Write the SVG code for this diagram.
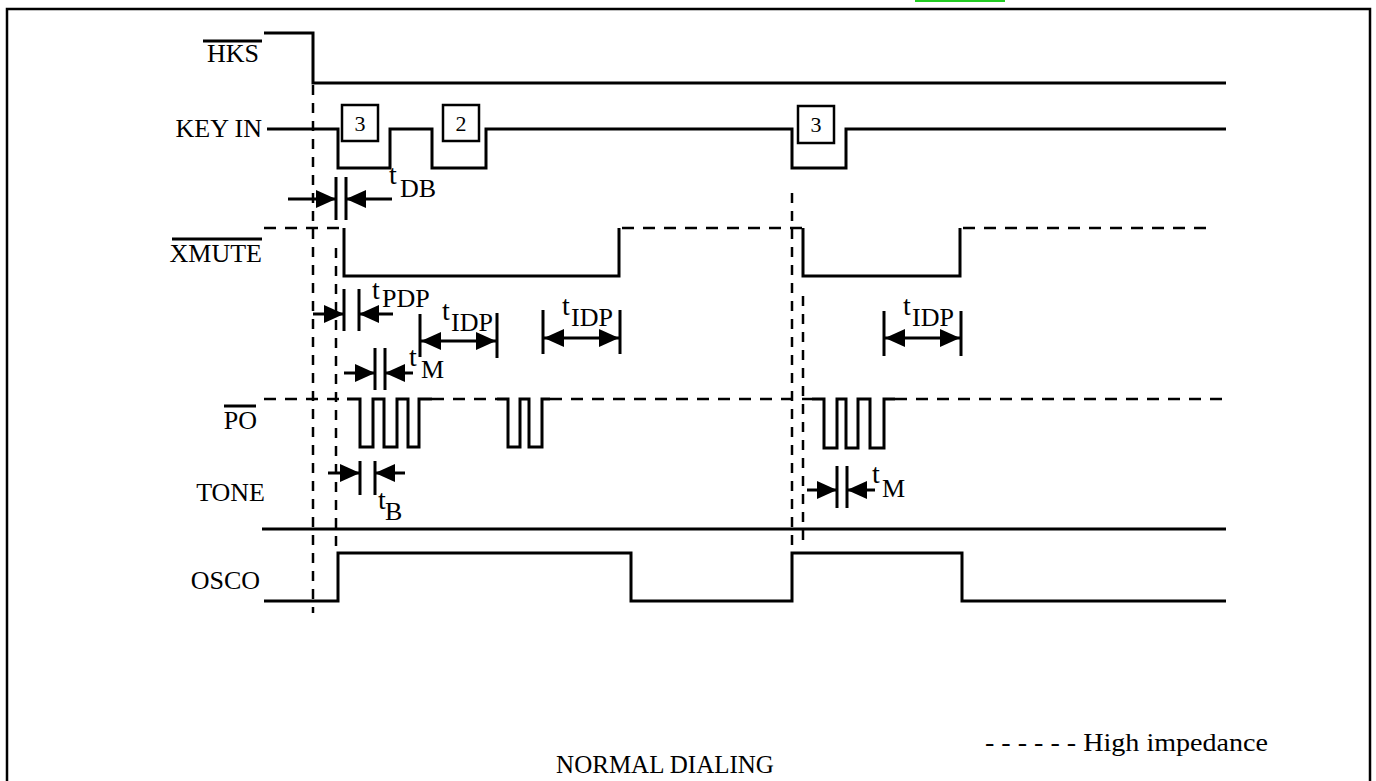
<svg xmlns="http://www.w3.org/2000/svg" width="1376" height="781" viewBox="0 0 1376 781">
<style>
text{font-family:"Liberation Serif","Times New Roman",serif;font-size:26px;fill:#000}
.lbl{text-anchor:end}
.sig{fill:none;stroke:#000;stroke-width:3;stroke-linejoin:miter}
.hz{fill:none;stroke:#000;stroke-width:2.5;stroke-dasharray:12 9}
.vd{fill:none;stroke:#000;stroke-width:2.5;stroke-dasharray:10 8}
.ol{stroke:#000;stroke-width:3}
.bar{stroke:#000;stroke-width:3}
.arr{stroke:#000;stroke-width:3;fill:none;marker-end:url(#ah)}
.arr2{stroke:#000;stroke-width:3;fill:none;marker-end:url(#ah);marker-start:url(#ah)}
.box{fill:#fff;stroke:#000;stroke-width:2.5}
.sm{font-size:22px}
</style>
<defs>
<marker id="ah" viewBox="0 0 20 18" refX="20" refY="9" markerWidth="20" markerHeight="18" markerUnits="userSpaceOnUse" orient="auto-start-reverse">
<path d="M0,0 L20,9 L0,18 z" fill="#000"/>
</marker>
</defs>
<rect x="0" y="0" width="1376" height="781" fill="#fff"/>
<rect x="916" y="-20" width="88" height="21" fill="none" stroke="#22cc22" stroke-width="2"/>
<rect id="frame" x="7" y="9" width="1363" height="790" fill="none" stroke="#000" stroke-width="2.5"/>

<g id="hks">
<text class="lbl" x="259" y="62">HKS</text>
<line class="ol" x1="203" y1="41" x2="262" y2="41"/>
<polyline class="sig" points="264,33 313,33 313,83 1226,83"/>
</g>

<g id="keyin">
<text class="lbl" x="262" y="137">KEY IN</text>
<polyline class="sig" points="267,129 338,129 338,168 390,168 390,129 432,129 432,168 486,168 486,129 792,129 792,168 846,168 846,129 1226,129"/>
<rect class="box" x="342" y="105" width="36" height="36"/>
<text class="sm" x="360" y="131" text-anchor="middle">3</text>
<rect class="box" x="443" y="105" width="36" height="36"/>
<text class="sm" x="461" y="131" text-anchor="middle">2</text>
<rect class="box" x="798" y="106" width="36" height="37"/>
<text class="sm" x="816" y="132" text-anchor="middle">3</text>
</g>

<g id="xmute">
<text class="lbl" x="262" y="262">XMUTE</text>
<line class="ol" x1="172" y1="239" x2="262" y2="239"/>
<line class="hz" x1="264" y1="228" x2="344" y2="228"/>
<polyline class="sig" points="344,228 344,276 619,276 619,228"/>
<line class="hz" x1="622" y1="228" x2="803" y2="228"/>
<polyline class="sig" points="803,228 803,276 960,276 960,228"/>
<line class="hz" x1="963" y1="228" x2="1212" y2="228"/>
</g>

<g id="po">
<text class="lbl" x="257" y="429">PO</text>
<line class="ol" x1="224" y1="406" x2="256" y2="406"/>
<line class="hz" x1="264" y1="399" x2="347" y2="399"/>
<polyline class="sig" points="347,399 360,399 360,447 373,447 373,399 384,399 384,447 397,447 397,399 408,399 408,447 419,447 419,399 432,399"/>
<line class="hz" x1="432" y1="399" x2="497" y2="399"/>
<polyline class="sig" points="497,399 508,399 508,447 520,447 520,399 529,399 529,447 542,447 542,399 550,399"/>
<line class="hz" x1="550" y1="399" x2="812" y2="399"/>
<polyline class="sig" points="812,399 824,399 824,448 837,448 837,399 846,399 846,448 858,448 858,399 870,399 870,448 884,448 884,399 895,399"/>
<line class="hz" x1="895" y1="399" x2="1226" y2="399"/>
</g>

<g id="tone">
<text class="lbl" x="265" y="501">TONE</text>
<line class="sig" x1="262" y1="529" x2="1226" y2="529"/>
</g>

<g id="osco">
<text class="lbl" x="260" y="589">OSCO</text>
<polyline class="sig" points="264,601 338,601 338,553 631,553 631,601 792,601 792,553 962,553 962,601 1226,601"/>
</g>

<g id="connectors">
<line class="vd" x1="313" y1="85" x2="313" y2="613"/>
<line class="vd" x1="336" y1="248" x2="336" y2="553"/>
<line class="vd" x1="792" y1="193" x2="792" y2="545"/>
<line class="vd" x1="803" y1="296" x2="803" y2="547"/>

<!-- tDB -->
<line class="arr" x1="288" y1="199" x2="336" y2="199"/>
<line class="bar" x1="336" y1="177" x2="336" y2="220"/>
<line class="bar" x1="346" y1="177" x2="346" y2="220"/>
<line class="arr" x1="392" y1="199" x2="346" y2="199"/>
<!-- tPDP -->
<line class="arr" x1="313" y1="314" x2="344" y2="314"/>
<line class="bar" x1="344" y1="289" x2="344" y2="331"/>
<line class="bar" x1="359" y1="289" x2="359" y2="331"/>
<line class="arr" x1="393" y1="314" x2="359" y2="314"/>
<!-- tIDP 1 -->
<line class="bar" x1="420" y1="314" x2="420" y2="357"/>
<line class="bar" x1="497" y1="313" x2="497" y2="358"/>
<line class="arr2" x1="421" y1="341" x2="496" y2="341"/>
<!-- tIDP 2 -->
<line class="bar" x1="543" y1="310" x2="543" y2="354"/>
<line class="bar" x1="620" y1="310" x2="620" y2="354"/>
<line class="arr2" x1="544" y1="338" x2="619" y2="338"/>
<!-- tIDP 3 -->
<line class="bar" x1="884" y1="311" x2="884" y2="356"/>
<line class="bar" x1="961" y1="311" x2="961" y2="356"/>
<line class="arr2" x1="885" y1="338" x2="960" y2="338"/>
<!-- tM 1 -->
<line class="arr" x1="344" y1="373" x2="375" y2="373"/>
<line class="bar" x1="375" y1="348" x2="375" y2="390"/>
<line class="bar" x1="385" y1="348" x2="385" y2="390"/>
<line class="arr" x1="413" y1="373" x2="385" y2="373"/>
<!-- tB -->
<line class="arr" x1="328" y1="473" x2="360" y2="473"/>
<line class="bar" x1="360" y1="461" x2="360" y2="495"/>
<line class="bar" x1="375" y1="461" x2="375" y2="495"/>
<line class="arr" x1="405" y1="473" x2="375" y2="473"/>
<!-- tM 2 -->
<line class="arr" x1="807" y1="490" x2="837" y2="490"/>
<line class="bar" x1="837" y1="466" x2="837" y2="508"/>
<line class="bar" x1="847" y1="466" x2="847" y2="508"/>
<line class="arr" x1="875" y1="490" x2="847" y2="490"/>
</g>

<g id="timing-labels">
<text x="389" y="184" style="font-size:28px">t</text><text x="400" y="197">DB</text>
<text x="372" y="299" style="font-size:28px">t</text><text x="382" y="307">PDP</text>
<text x="442" y="320" style="font-size:28px">t</text><text x="451" y="331">IDP</text>
<text x="562" y="315" style="font-size:28px">t</text><text x="571" y="326">IDP</text>
<text x="903" y="315" style="font-size:28px">t</text><text x="912" y="326">IDP</text>
<text x="409" y="366" style="font-size:28px">t</text><text x="421" y="378">M</text>
<text x="378" y="509" style="font-size:28px">t</text><text x="385" y="520">B</text>
<text x="872" y="483" style="font-size:28px">t</text><text x="882" y="497">M</text>
</g>

<g id="legend">
<text x="985" y="751" textLength="283" lengthAdjust="spacingAndGlyphs" style="font-size:26px">- - - - - - High impedance</text>
<text x="665" y="773" text-anchor="middle" style="font-size:25px">NORMAL DIALING</text>
</g>
</svg>
